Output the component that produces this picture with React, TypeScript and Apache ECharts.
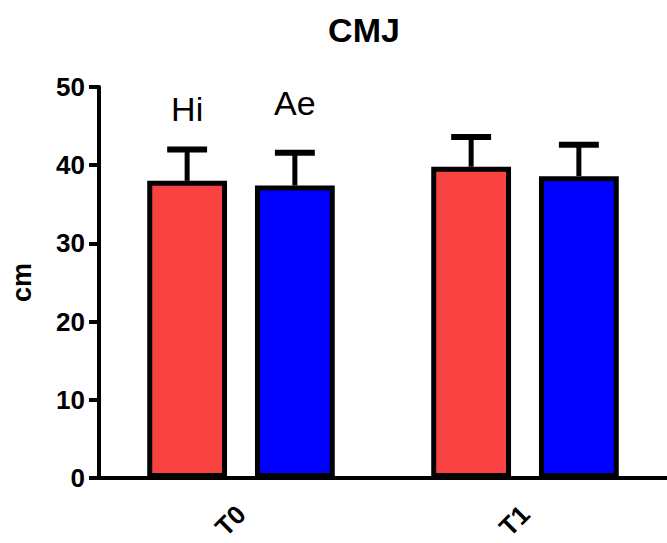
import React, { useEffect, useRef } from "react";
import * as echarts from "echarts";

const categories = ["T0", "T1"];
const seriesNames = ["Hi", "Ae"];
const hiMeans = [38.0, 39.8];
const hiSD = [4.0, 3.8];
const aeMeans = [37.4, 38.6];
const aeSD = [4.2, 4.0];
const yTicks = [0, 10, 20, 30, 40, 50];
const colors = ["#F94343", "#0000FF"];

const FONT = "'Liberation Sans', Arial, sans-serif";
const BAR_FRAC = 0.281;
const GAP_FRAC = 0.35;

export default function App() {
  const ref = useRef<HTMLDivElement>(null);
  useEffect(() => {
    if (!ref.current) return;
    const chart = echarts.init(ref.current, undefined, { renderer: "svg" });

    const makeErr = (means: number[], sds: number[], sign: number, z: number) => ({
      type: "custom",
      z,
      data: means.map((m, i) => [i, m, m + sds[i]]),
      renderItem: (params: any, api: any) => {
        const band = api.size([1, 0])[0];
        const bw = band * BAR_FRAC;
        const off = (sign * (bw + bw * GAP_FRAC)) / 2;
        const base = api.coord([api.value(0), api.value(1)]);
        const top = api.coord([api.value(0), api.value(2)]);
        const cx = base[0] + off;
        const hw = bw / 4;
        return {
          type: "group",
          children: [
            { type: "line", shape: { x1: cx, y1: base[1], x2: cx, y2: top[1] }, style: { stroke: "#000", lineWidth: 5 } },
            { type: "line", shape: { x1: cx - hw, y1: top[1], x2: cx + hw, y2: top[1] }, style: { stroke: "#000", lineWidth: 6 } },
          ],
        };
      },
    });

    const labelStyle = { fontFamily: FONT, fontSize: 34, color: "#000" };

    chart.setOption({
      animation: false,
      title: {
        text: "CMJ",
        left: 359,
        textAlign: "center",
        top: 8,
        textStyle: { fontFamily: FONT, fontSize: 34, fontWeight: "bold", color: "#000" },
      },
      grid: { left: 97, top: 87, width: 576, height: 391 },
      xAxis: {
        type: "category",
        data: categories,
        axisLine: { lineStyle: { color: "#000", width: 4 } },
        axisTick: { alignWithLabel: true, length: 10, lineStyle: { color: "#000", width: 3 } },
        axisLabel: { rotate: 45, margin: 32, fontFamily: FONT, fontSize: 26, fontWeight: "bold", color: "#000" },
      },
      yAxis: {
        type: "value",
        min: yTicks[0],
        max: yTicks[yTicks.length - 1],
        interval: 10,
        name: "cm",
        nameLocation: "middle",
        nameRotate: 90,
        nameGap: 64,
        nameTextStyle: { fontFamily: FONT, fontSize: 27, fontWeight: "bold", color: "#000" },
        axisLine: { show: true, lineStyle: { color: "#000", width: 4 } },
        axisTick: { show: true, length: 10, lineStyle: { color: "#000", width: 4 } },
        axisLabel: { margin: 14, fontFamily: FONT, fontSize: 26, fontWeight: "bold", color: "#000" },
        splitLine: { show: false },
      },
      series: [
        makeErr(hiMeans, hiSD, -1, 1),
        makeErr(aeMeans, aeSD, 1, 1),
        {
          type: "bar",
          name: seriesNames[0],
          z: 2,
          barWidth: BAR_FRAC * 100 + "%",
          barGap: GAP_FRAC * 100 + "%",
          itemStyle: { color: colors[0], borderColor: "#000", borderWidth: 5 },
          data: hiMeans.map((v, i) =>
            i === 0
              ? { value: v, label: { show: true, position: "top", distance: 55, formatter: seriesNames[0], ...labelStyle } }
              : v
          ),
        },
        {
          type: "bar",
          name: seriesNames[1],
          z: 2,
          barWidth: BAR_FRAC * 100 + "%",
          barGap: GAP_FRAC * 100 + "%",
          itemStyle: { color: colors[1], borderColor: "#000", borderWidth: 5 },
          data: aeMeans.map((v, i) =>
            i === 0
              ? { value: v, label: { show: true, position: "top", distance: 66, formatter: seriesNames[1], ...labelStyle } }
              : v
          ),
        },
      ],
    });
    return () => chart.dispose();
  }, []);
  return <div ref={ref} style={{ position: "absolute", left: 0, top: 0, width: 667, height: 543 }} />;
}
